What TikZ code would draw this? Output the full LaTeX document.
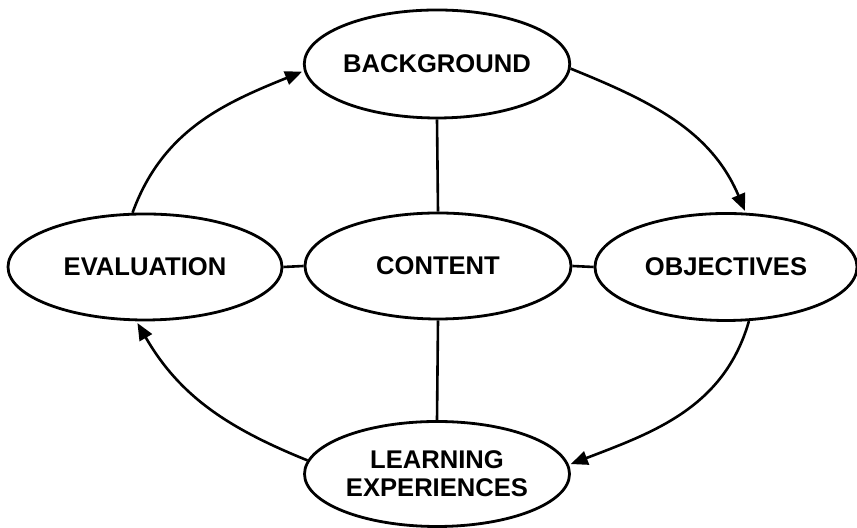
\documentclass[tikz,border=0pt]{standalone}
\usepackage{fontspec}
\setmainfont{Liberation Sans}
\usetikzlibrary{shapes.geometric,arrows.meta}
\begin{document}
\begin{tikzpicture}[x=0.5pt,y=0.5pt,
  oval/.style={ellipse,draw,line width=1.4pt,inner sep=0pt,
    font=\fontsize{12.8}{14}\selectfont\bfseries,align=center},
  link/.style={line width=1.3pt},
  flow/.style={line width=1.3pt,-{Triangle[length=8.5pt,width=7pt]}}]
\useasboundingbox (0,0) rectangle (857,528);
\node[oval,minimum width=132pt,minimum height=54pt] (bg) at (437,464) {BACKGROUND};
\node[oval,minimum width=137pt,minimum height=53pt] (ev) at (145,261) {EVALUATION};
\node[oval,minimum width=133pt,minimum height=53pt] (ct) at (438,262) {CONTENT};
\node[oval,minimum width=131pt,minimum height=53.5pt] (ob) at (726,261) {OBJECTIVES};
\node[oval,minimum width=132.5pt,minimum height=52.5pt] (le) at (437,54) {LEARNING\\EXPERIENCES};
\draw[link] (bg.south) -- (ct.north);
\draw[link] (ct.south) -- (le.north);
\draw[link] (ev.east) -- (ct.west);
\draw[link] (ct.east) -- (ob.west);
\draw[flow,shorten >=1pt] (ev.103) to[out=70,in=202] (bg.183);
\draw[flow,shorten >=1pt] (bg.-2) to[out=-22,in=113] (ob.70);
\draw[flow,shorten >=1pt] (ob.-67) to[out=254,in=21] (le.4);
\draw[flow,shorten >=1pt] (le.174) to[out=158,in=300] (ev.261);
\end{tikzpicture}
\end{document}
